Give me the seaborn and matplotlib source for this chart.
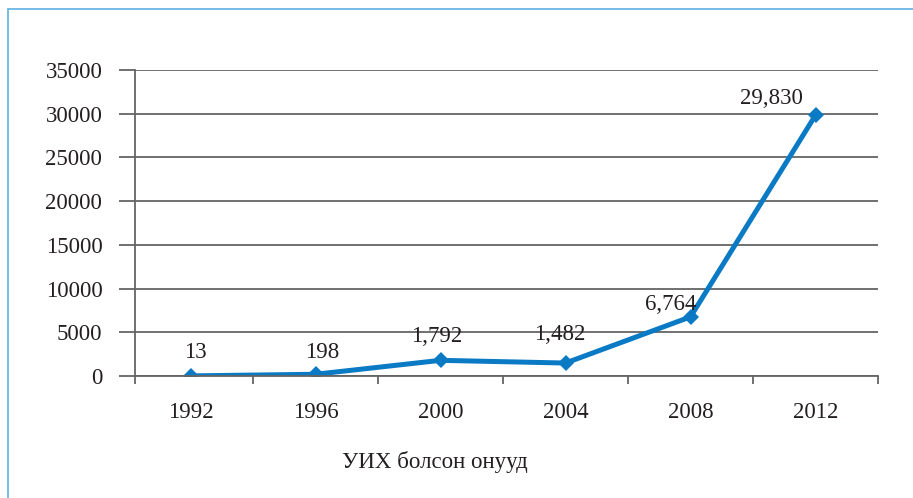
import pandas as pd
import matplotlib.pyplot as plt
import seaborn as sns
from matplotlib.patches import Rectangle

years = ['1992', '1996', '2000', '2004', '2008', '2012']
values = [13, 198, 1792, 1482, 6764, 29830]
y_ticks = [0, 5000, 10000, 15000, 20000, 25000, 30000, 35000]
x_label = 'УИХ болсон онууд'

line_color = '#0a7ac4'
grid_color = '#646464'
text_color = '#231f20'
frame_color = '#5db0e3'

# data labels were hand placed in the original, shift in pixels
label_shift = [(5, 23), (7, 22), (-4, 24), (-6, 29), (-20, 12), (-44, 17)]


def main():
    sns.set_style('white')
    plt.rcParams['font.family'] = ['Liberation Serif', 'DejaVu Serif']

    df = pd.DataFrame({'year': years, 'value': values})

    fig = plt.figure(figsize=(9.13, 4.98), dpi=100)
    ax = fig.add_axes([135 / 913, 1 - 376 / 498, (878 - 135) / 913, (376 - 70) / 498])

    sns.lineplot(data=df, x='year', y='value', ax=ax, color=line_color,
                 linewidth=3.6, marker='D', markersize=8, markeredgewidth=0)

    ax.set_ylim(0, 35000)
    ax.set_yticks(y_ticks)
    ax.set_yticklabels([str(t) for t in y_ticks])
    ax.grid(axis='y', color=grid_color, linewidth=1.3)
    ax.set_axisbelow(True)

    left = -0.444
    ax.set_xlim(left, 5.5)
    ax.set_xticks(range(len(years)))
    ax.set_xticklabels(years)
    ax.set_xticks([left, 0.5, 1.5, 2.5, 3.5, 4.5, 5.5], minor=True)
    ax.tick_params(axis='x', which='major', length=0, pad=19,
                   labelsize=16.5, labelcolor=text_color)
    ax.tick_params(axis='x', which='minor', length=6, width=1.3,
                   color=grid_color, bottom=True)
    ax.tick_params(axis='y', length=11.5, width=1.3, color=grid_color,
                   pad=12, labelsize=16.5, labelcolor=text_color, left=True)

    ax.set_xlabel('')
    ax.set_ylabel('')
    for side in ['top', 'right']:
        ax.spines[side].set_visible(False)
    for side in ['left', 'bottom']:
        ax.spines[side].set_color(grid_color)
        ax.spines[side].set_linewidth(1.3)

    for i, v in enumerate(values):
        dx, dy = label_shift[i]
        ax.annotate(f'{v:,}', (i, v), xytext=(dx, dy), textcoords='offset pixels',
                    ha='center', va='center', fontsize=16.5, color=text_color)

    fig.text(435 / 913, 1 - 462 / 498, x_label, ha='center', va='center',
             fontsize=16.5, color=text_color)

    fig.patches.append(Rectangle((8 / 913, -0.1), 1.2, 1.1 - 9 / 498,
                                 transform=fig.transFigure, fill=False,
                                 edgecolor=frame_color, linewidth=1.2))

    fig.savefig('out.png', dpi=100)


if __name__ == "__main__":
    main()
